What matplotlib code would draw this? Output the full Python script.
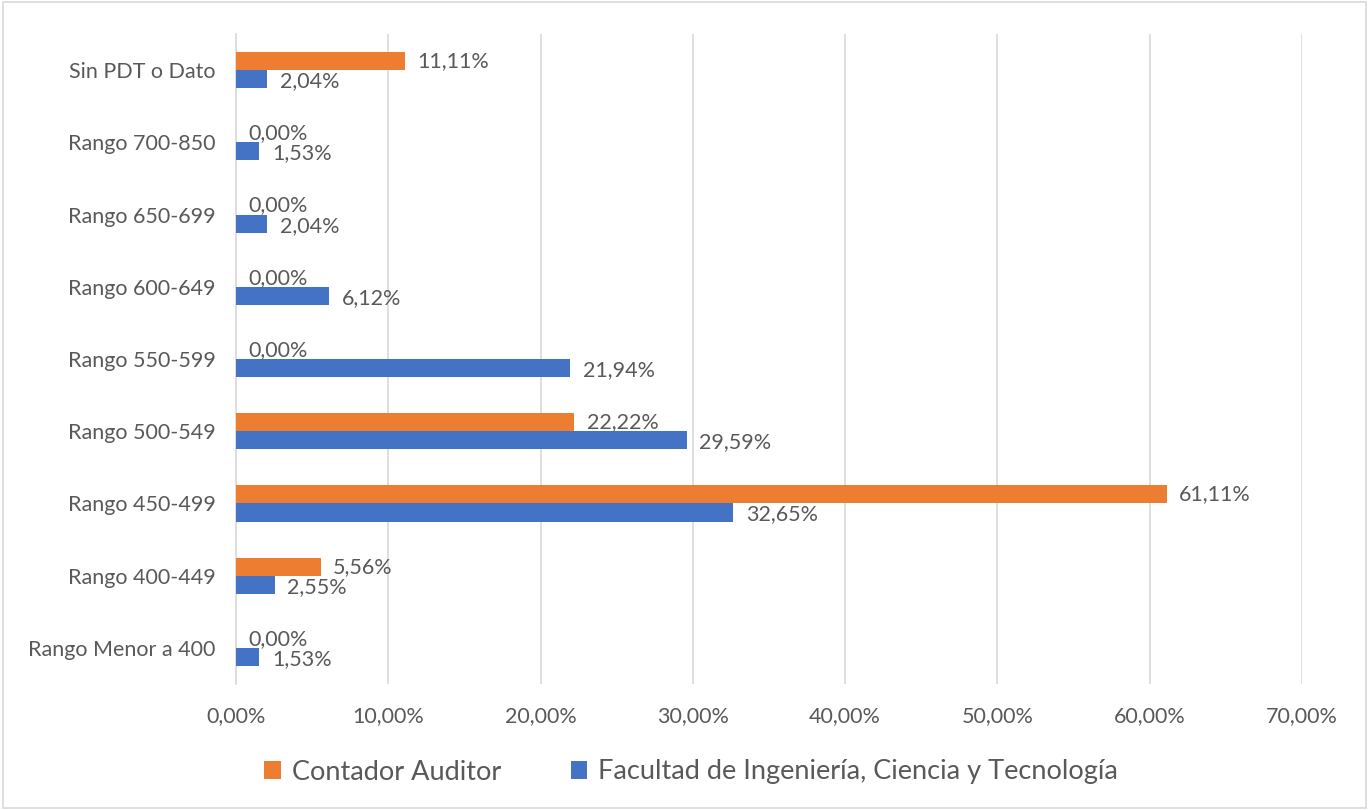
import matplotlib
matplotlib.use("Agg")
import matplotlib.pyplot as plt
import numpy as np
from matplotlib.patches import Rectangle

categories = ["Rango Menor a 400", "Rango 400-449", "Rango 450-499", "Rango 500-549",
              "Rango 550-599", "Rango 600-649", "Rango 650-699", "Rango 700-850",
              "Sin PDT o Dato"]
contador = [0.00, 5.56, 61.11, 22.22, 0.00, 0.00, 0.00, 0.00, 11.11]
facultad = [1.53, 2.55, 32.65, 29.59, 21.94, 6.12, 2.04, 1.53, 2.04]
series_names = ["Contador Auditor", "Facultad de Ingeniería, Ciencia y Tecnología"]
xticks = [0, 10, 20, 30, 40, 50, 60, 70]

plt.rcParams['font.family'] = ['Lato', 'DejaVu Sans']
gray = "#595959"
orange = "#ED7D31"
blue = "#4472C4"

fig = plt.figure(figsize=(13.69, 8.10), dpi=100)
fig.patches.append(Rectangle((0.002, 0.002), 0.996, 0.996, transform=fig.transFigure,
                             fill=False, edgecolor="#D9D9D9", linewidth=1.2))
ax = fig.add_axes([236/1369, 1-684/810, (1302-236)/1369, 650/810])

y = np.arange(len(categories))
h = 0.25
bo = ax.barh(y + h/2, contador, height=h, color=orange, label=series_names[0], zorder=3)
bb = ax.barh(y - h/2, facultad, height=h, color=blue, label=series_names[1], zorder=3)

def fmt(v):
    return f"{v:.2f}".replace(".", ",") + "%"

fs = 15.5
for yi, v in zip(y, contador):
    ax.annotate(fmt(v), (v, yi + h/2), xytext=(9, 0), textcoords="offset points",
                va="center", ha="left", fontsize=fs, color=gray, zorder=4)
for yi, v in zip(y, facultad):
    ax.annotate(fmt(v), (v, yi - h/2), xytext=(9, -1.5), textcoords="offset points",
                va="center", ha="left", fontsize=fs, color=gray, zorder=4)

ax.set_xlim(0, 70)
ax.set_ylim(-0.5, len(categories) - 0.5)
ax.set_xticks(xticks)
ax.set_xticklabels([fmt(t) for t in xticks], fontsize=fs, color=gray)
ax.set_yticks(y)
ax.set_yticklabels(categories, fontsize=fs, color=gray)
ax.tick_params(axis="both", length=0)
ax.tick_params(axis="x", pad=16)
ax.tick_params(axis="y", pad=14.5)
ax.grid(axis="x", color="#D9D9D9", linewidth=1.2, zorder=0)
for s in ["top", "right", "bottom"]:
    ax.spines[s].set_visible(False)
ax.spines["left"].set_color("#D9D9D9")
ax.spines["left"].set_linewidth(1.2)

leg = fig.legend(handles=[bo, bb], labels=series_names, loc="center",
                 bbox_to_anchor=(0.505, 1-772/810), ncol=2, frameon=False,
                 fontsize=19.5, handlelength=0.6, handleheight=0.6,
                 columnspacing=2.6, handletextpad=0.4)
for t in leg.get_texts():
    t.set_color(gray)

fig.savefig("out.png", dpi=100)
